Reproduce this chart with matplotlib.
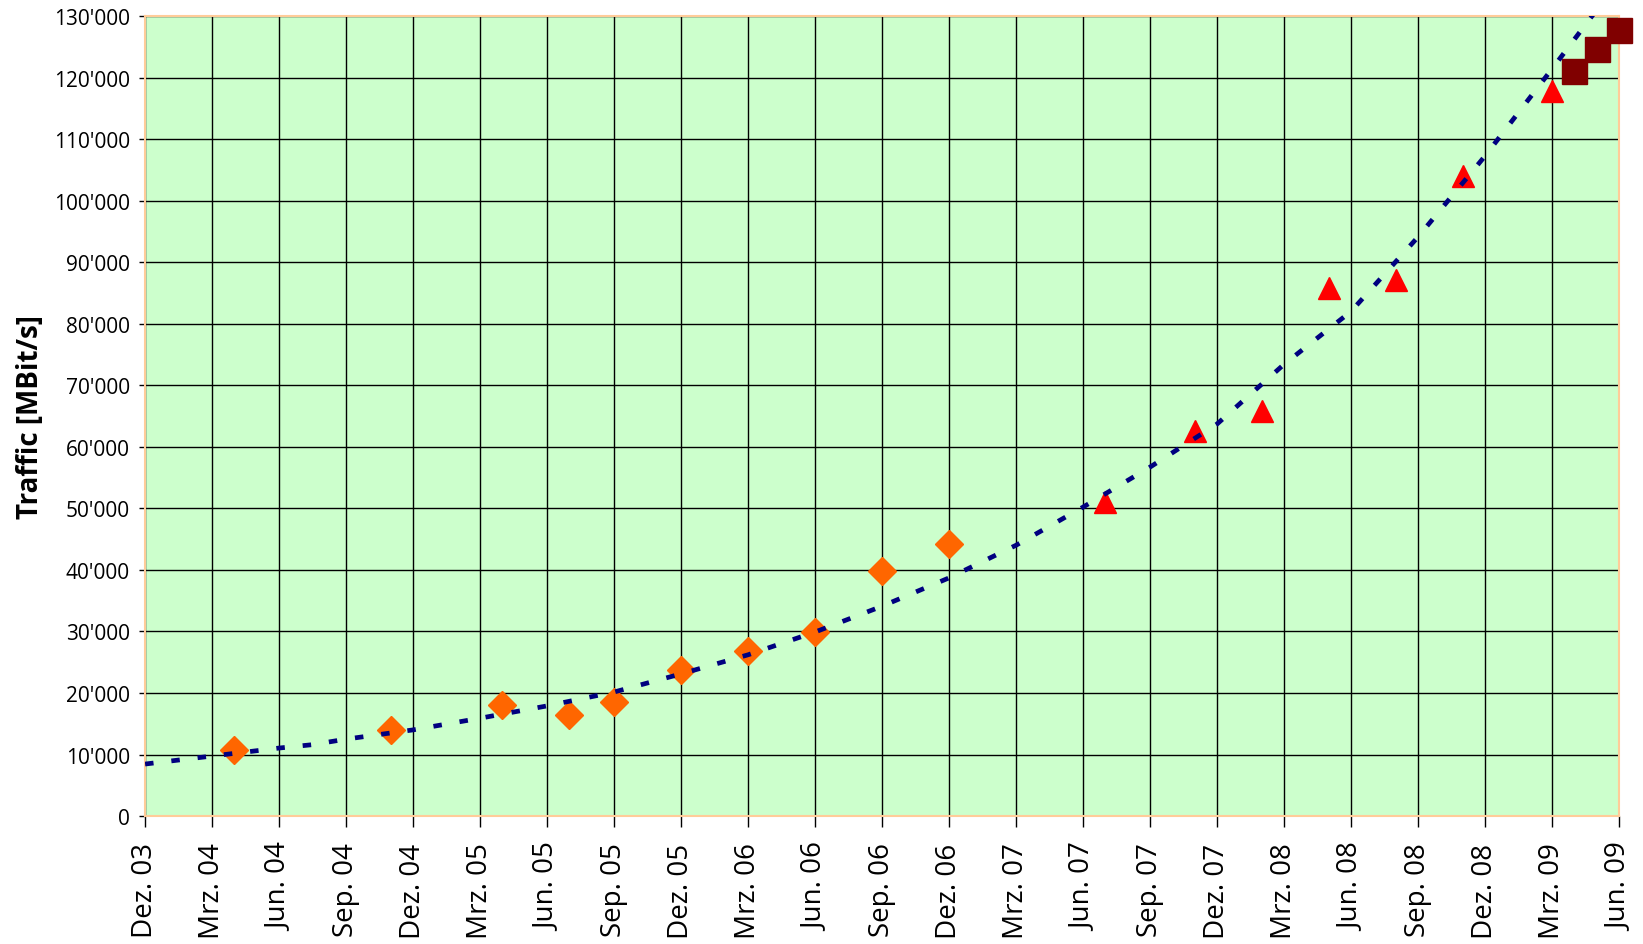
import numpy as np
import matplotlib
matplotlib.use("Agg")
import matplotlib.pyplot as plt
from matplotlib.ticker import FuncFormatter

plt.rcParams['font.family'] = ['Open Sans', 'DejaVu Sans']

# months counted from Dez. 03
tick_labels = ["Dez. 03", "Mrz. 04", "Jun. 04", "Sep. 04", "Dez. 04", "Mrz. 05",
               "Jun. 05", "Sep. 05", "Dez. 05", "Mrz. 06", "Jun. 06", "Sep. 06",
               "Dez. 06", "Mrz. 07", "Jun. 07", "Sep. 07", "Dez. 07", "Mrz. 08",
               "Jun. 08", "Sep. 08", "Dez. 08", "Mrz. 09", "Jun. 09"]

diamond_month = [4, 11, 16, 19, 21, 24, 27, 30, 33, 36]
diamond_val = [10700, 13950, 18050, 16350, 18550, 23800, 26900, 29950, 39800, 44250]

triangle_month = [43, 47, 50, 53, 56, 59, 63]
triangle_val = [51050, 62600, 65850, 85750, 87100, 103950, 117750]

square_month = [64, 65, 66]
square_val = [121100, 124600, 127750]

trend_month = [0, 3, 6, 7.5, 9, 12, 15, 18, 21, 24, 27, 30, 33, 36, 39, 42, 45,
               48, 51, 54, 57, 60, 63, 66]
trend_val = [8450, 9750, 11050, 11600, 12500, 14000, 15900, 17900, 20150, 23100,
             26200, 29900, 34100, 38700, 44000, 50200, 56700, 63700, 73400, 82000,
             94100, 107250, 121400, 135800]

fig = plt.figure(figsize=(16.43, 9.45), dpi=100)
ax = fig.add_axes([0.0883, 0.1354, 0.8971, 0.8466])
ax.set_facecolor('#CCFFCC')

ax.plot(diamond_month, diamond_val, linestyle='none', marker='D', ms=14,
        color='#FF6600', zorder=3)
ax.plot(triangle_month, triangle_val, linestyle='none', marker='^', ms=16.5,
        color='#FF0000', zorder=3)
ax.plot(square_month, square_val, linestyle='none', marker='s', ms=18,
        color='#800000', zorder=3, clip_on=False)
ax.plot(trend_month, trend_val, color='#000080', lw=3.4,
        dashes=(1.8, 3.8), zorder=4)

ax.set_xlim(0, 66)
ax.set_ylim(0, 130000)
ax.set_xticks(np.arange(0, 67, 3))
ax.set_xticklabels(tick_labels, rotation=90, fontsize=20)
ax.set_yticks(np.arange(0, 130001, 10000))
ax.yaxis.set_major_formatter(FuncFormatter(lambda v, p: f"{int(v):,}".replace(',', "'")))
ax.tick_params(axis='y', labelsize=15, length=4, width=1, pad=7)
ax.tick_params(axis='x', length=8, width=1, pad=11)
ax.grid(True, color='#000000', lw=1.0)
ax.set_axisbelow(True)
for s in ax.spines.values():
    s.set_color('#FFCC99')
    s.set_linewidth(1.5)

ax.set_ylabel("Traffic [MBit/s]", fontsize=20, fontweight='bold', labelpad=6)

plt.savefig("out.png", dpi=100)
